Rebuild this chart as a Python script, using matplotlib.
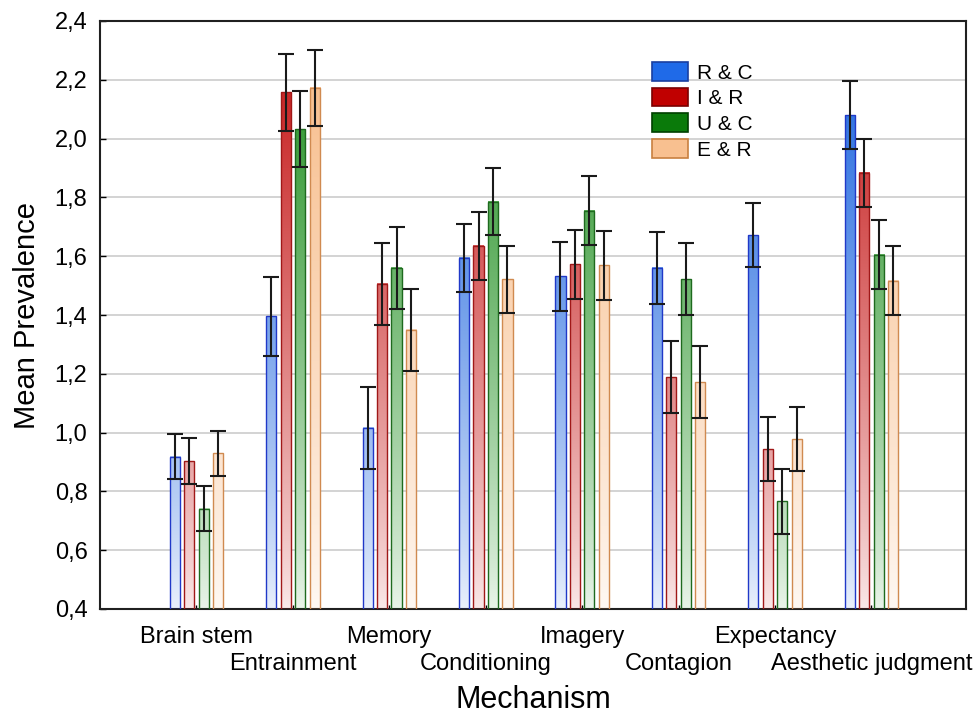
import matplotlib
matplotlib.use("Agg")
import matplotlib.pyplot as plt
import numpy as np
from matplotlib.colors import to_rgb
from matplotlib.patches import Patch

plt.rcParams['font.family'] = ['Liberation Sans', 'DejaVu Sans']

mechanisms = ["Brain stem", "Entrainment", "Memory", "Conditioning",
              "Imagery", "Contagion", "Expectancy", "Aesthetic judgment"]
groups = ["R & C", "I & R", "U & C", "E & R"]

rc_mean = [0.918, 1.395, 1.016, 1.594, 1.531, 1.561, 1.672, 2.080]
ir_mean = [0.903, 2.158, 1.506, 1.635, 1.572, 1.188, 0.944, 1.883]
uc_mean = [0.741, 2.032, 1.560, 1.786, 1.755, 1.522, 0.766, 1.605]
er_mean = [0.930, 2.173, 1.350, 1.521, 1.569, 1.171, 0.978, 1.517]

rc_err = [0.077, 0.133, 0.140, 0.115, 0.118, 0.122, 0.110, 0.115]
ir_err = [0.077, 0.131, 0.140, 0.115, 0.118, 0.122, 0.108, 0.117]
uc_err = [0.077, 0.130, 0.140, 0.115, 0.117, 0.122, 0.110, 0.118]
er_err = [0.077, 0.130, 0.140, 0.115, 0.118, 0.122, 0.110, 0.118]

y_ticks = [0.4, 0.6, 0.8, 1.0, 1.2, 1.4, 1.6, 1.8, 2.0, 2.2, 2.4]
y_tick_labels = ["0,4", "0,6", "0,8", "1,0", "1,2", "1,4", "1,6", "1,8", "2,0", "2,2", "2,4"]

fill_colors = ["#2a6ee0", "#c82424", "#2e962e", "#f8c090"]
edge_colors = ["#2038c8", "#a01818", "#1e6a1e", "#d08a50"]
legend_faces = ["#1f6ae8", "#c00000", "#0a7a0a", "#f8c090"]
legend_edges = ["#1a3fa0", "#7a0000", "#004000", "#c88040"]

means = [rc_mean, ir_mean, uc_mean, er_mean]
errs = [rc_err, ir_err, uc_err, er_err]

base = 0.4
fig = plt.figure(figsize=(9.75, 7.17), dpi=100)
ax = fig.add_axes([100 / 975, 1 - 609 / 717, 866 / 975, 588 / 717])

x = np.arange(len(mechanisms))
offsets = [-0.225, -0.075, 0.075, 0.225]
width = 0.105


def gradient_bar(ax, xc, top, color):
    # vertical gradient: pale near the baseline, full colour higher up
    v = np.linspace(base, top, 200)
    t = np.clip((v - base) / (2.2 - base), 0, 1)
    a = 0.10 + 0.90 * t ** 0.85
    c = np.array(to_rgb(color))
    rgb = (1 - a)[:, None] * np.ones(3) + a[:, None] * c
    ax.imshow(rgb[:, None, :], extent=(xc - width / 2, xc + width / 2, base, top),
              origin='lower', aspect='auto', zorder=2, interpolation='bilinear')


for i in range(4):
    pos = x + offsets[i]
    for p, m in zip(pos, means[i]):
        gradient_bar(ax, p, m, fill_colors[i])
    ax.bar(pos, np.array(means[i]) - base, width, bottom=base, fill=False,
           edgecolor=edge_colors[i], linewidth=1.0, zorder=3)
    ax.errorbar(pos, means[i], yerr=errs[i], fmt='none', ecolor='#1a1a1a',
                elinewidth=1.5, capsize=6, capthick=1.5, zorder=4)

ax.set_xlim(-1, 7.98)
ax.set_ylim(0.4, 2.4)
ax.set_yticks(y_ticks)
ax.set_yticklabels(y_tick_labels, fontsize=17)

# staggered category labels: even ones on the major ticks, odd ones one row lower
ax.set_xticks(x[0::2])
ax.set_xticklabels(mechanisms[0::2], fontsize=17)
ax.set_xticks(x[1::2], minor=True)
ax.set_xticklabels(mechanisms[1::2], minor=True, fontsize=17)
ax.tick_params(axis='y', direction='in', length=4, width=1, pad=9)
ax.tick_params(axis='x', which='major', direction='in', length=3, width=1, pad=12)
ax.tick_params(axis='x', which='minor', direction='in', length=3, width=1, pad=32)

ax.grid(axis='y', color='#cccccc', linewidth=1.2)
ax.set_axisbelow(True)
for s in ax.spines.values():
    s.set_linewidth(1.5)
    s.set_color('#202020')

ax.set_ylabel("Mean Prevalence", fontsize=21, labelpad=10)
ax.set_xlabel("Mechanism", fontsize=22, labelpad=7)

handles = [Patch(facecolor=legend_faces[i], edgecolor=legend_edges[i], linewidth=1.2)
           for i in range(4)]
ax.legend(handles, groups, loc='upper left', bbox_to_anchor=(0.637, 0.93),
          frameon=False, fontsize=15, handlelength=1.75, handleheight=1.0,
          handletextpad=0.45, labelspacing=0.25, borderpad=0, borderaxespad=0)

fig.savefig("out.png", dpi=100)
